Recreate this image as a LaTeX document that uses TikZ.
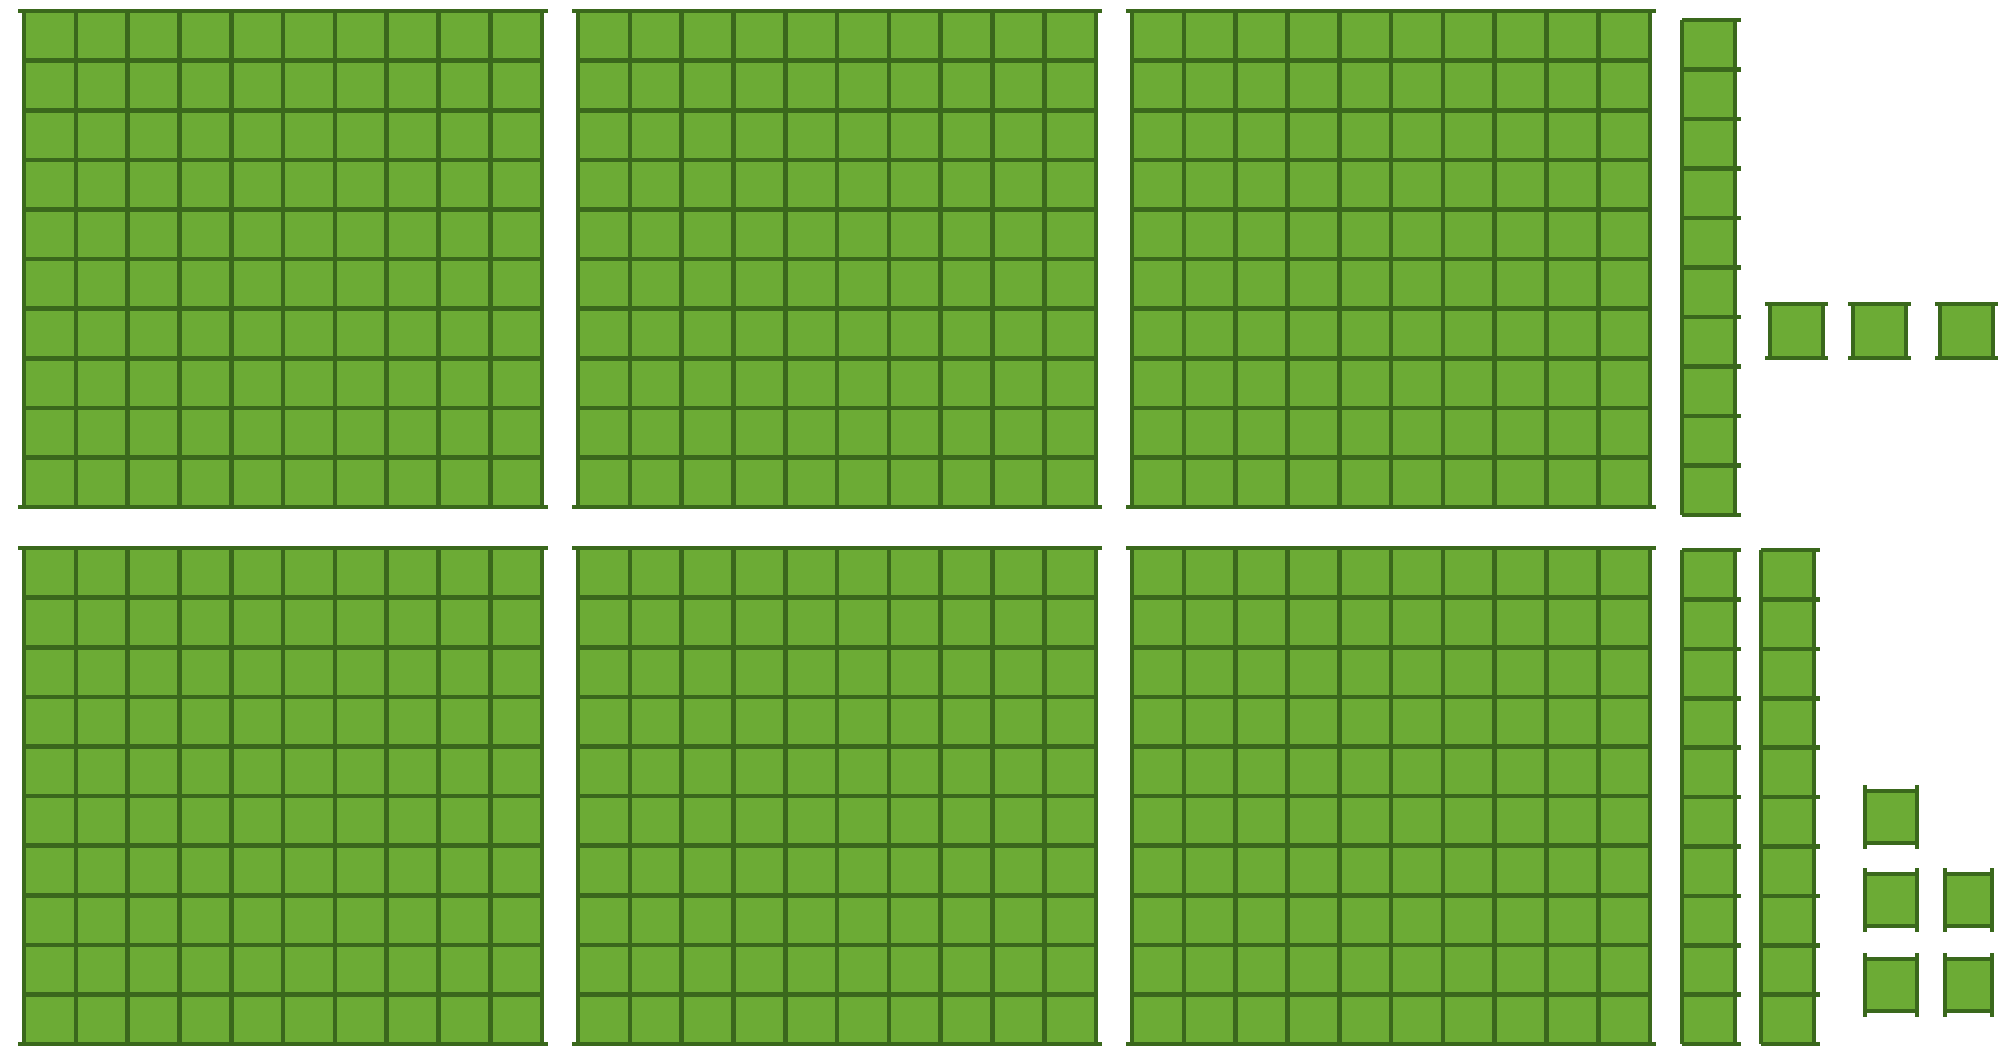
\documentclass[tikz,border=0pt]{standalone}
\usepackage{tikz}
\definecolor{blockfill}{RGB}{108,171,53}
\definecolor{blockline}{RGB}{58,104,28}
\tikzset{
  gridline/.style={draw=blockline, line width=4.6pt},
  fillbox/.style={fill=blockfill},
}
% flat: x, y (top-left)
\newcommand\drawflat[2]{%
  \fill[fillbox] (#1,#2) rectangle ++(518,496);
  \foreach \i in {1,...,9} \draw[gridline] ({#1+\i*51.8},#2) -- ++(0,496);
  \foreach \j in {1,...,9} \draw[gridline] (#1,{#2+\j*49.6}) -- ++(518,0);
  \draw[gridline] (#1,#2) -- ++(0,496);
  \draw[gridline] ({#1+518},#2) -- ++(0,496);
  \draw[gridline] ({#1-6},#2) -- ++(530,0);
  \draw[gridline] ({#1-6},{#2+496}) -- ++(530,0);
}
% rod: x, y, height
\newcommand\drawrod[3]{%
  \fill[fillbox] (#1,#2) rectangle ++(53,#3);
  \draw[gridline] (#1,#2) -- ++(0,#3);
  \draw[gridline] ({#1+53},#2) -- ++(0,#3);
  \foreach \j in {0,...,10} \draw[gridline] (#1,{#2+\j*#3/10}) -- ++(59,0);
}
% unit with extended horizontals: x, y
\newcommand\oneH[2]{%
  \fill[fillbox] (#1,#2) rectangle ++(53,54);
  \draw[gridline] (#1,#2) -- ++(0,54);
  \draw[gridline] ({#1+53},#2) -- ++(0,54);
  \draw[gridline] ({#1-5},#2) -- ++(63,0);
  \draw[gridline] ({#1-5},{#2+54}) -- ++(63,0);
}
% unit with extended verticals: x, top of verticals, width
\newcommand\oneV[3]{%
  \fill[fillbox] (#1,{#2+6}) rectangle ++(#3,52);
  \draw[gridline] (#1,{#2+6}) -- ++(#3,0);
  \draw[gridline] (#1,{#2+58}) -- ++(#3,0);
  \draw[gridline] (#1,#2) -- ++(0,64);
  \draw[gridline] ({#1+#3},#2) -- ++(0,64);
}
\begin{document}
\begin{tikzpicture}[x=1pt,y=-1pt]
  \useasboundingbox (0,0) rectangle (1998,1047);
  % hundreds
  \drawflat{24}{11}
  \drawflat{578}{11}
  \drawflat{1132}{11}
  \drawflat{24}{548}
  \drawflat{578}{548}
  \drawflat{1132}{548}
  % tens
  \drawrod{1682}{20}{495}
  \drawrod{1682}{550}{494}
  \drawrod{1761}{550}{494}
  % ones (top)
  \oneH{1770}{304}
  \oneH{1853}{304}
  \oneH{1940}{304}
  % ones (bottom)
  \oneV{1865}{785}{52}
  \oneV{1865}{868}{52}
  \oneV{1945}{868}{47}
  \oneV{1865}{953}{52}
  \oneV{1945}{953}{47}
\end{tikzpicture}
\end{document}
